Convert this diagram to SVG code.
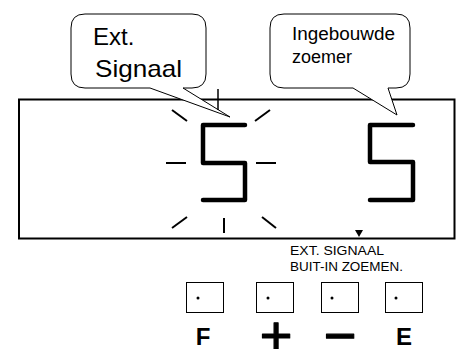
<svg xmlns="http://www.w3.org/2000/svg" width="456" height="349" viewBox="0 0 456 349">
<style>
.bub{fill:#fff;stroke:#000;stroke-width:1}
.seg{fill:none;stroke:#000;stroke-width:4.5;stroke-linecap:round;stroke-linejoin:round}
.ray{stroke:#000;stroke-width:2;fill:none}
.t{font-family:"Liberation Sans",Arial,sans-serif;fill:#000}
.key{fill:#fff;stroke:#000;stroke-width:1}
.lbl{font-family:"Liberation Sans",Arial,sans-serif;font-weight:bold;fill:#000;text-anchor:middle}
.sym{font-family:"Liberation Sans",Arial,sans-serif;fill:#000;stroke:#000;stroke-width:1.2;stroke-linejoin:round;text-anchor:middle}
</style>
<rect width="456" height="349" fill="#fff"/>
<g id="display">
<rect x="19" y="99.5" width="435.5" height="139" fill="#fff" stroke="#000" stroke-width="2"/>
</g>
<g id="digit-left">
<path class="seg" d="M245,125 H203 V163 H245 V200 H203"/>
<g class="ray">
<line x1="166" y1="163" x2="186" y2="163"/>
<line x1="256" y1="163" x2="276" y2="163"/>
<line x1="172" y1="110" x2="187" y2="121"/>
<line x1="255" y1="121" x2="270" y2="110"/>
<line x1="172" y1="228" x2="187" y2="217"/>
<line x1="224" y1="218" x2="224" y2="233"/>
<line x1="262" y1="217" x2="276" y2="228"/>
</g>
</g>
<g id="digit-right">
<path class="seg" d="M413,125 H370 V162 H413 V200 H370"/>
</g>
<g id="bubble-ext">
<path class="bub" d="M85,14 H192 Q206,14 206,28 V74 Q206,88 192,88 H183 L230,117 L150,88 H85 Q71,88 71,74 V28 Q71,14 85,14 Z"/>
<text class="t" x="93" y="45" font-size="24">Ext.</text>
<text class="t" x="95" y="77" font-size="24" textLength="87" lengthAdjust="spacingAndGlyphs">Signaal</text>
</g>
<g id="bubble-zoemer">
<path class="bub" d="M284,14 H396 Q410,14 410,28 V74 Q410,88 396,88 H388 L397,115 L353,88 H284 Q270,88 270,74 V28 Q270,14 284,14 Z"/>
<text class="t" x="292" y="40" font-size="18" textLength="103" lengthAdjust="spacingAndGlyphs">Ingebouwde</text>
<text class="t" x="292" y="63" font-size="18">zoemer</text>
</g>
<g id="connectors">
<line x1="218" y1="89" x2="218" y2="110" stroke="#000" stroke-width="1.5"/>
</g>
<g id="indicator">
<path d="M355,230 H363 L359,237 Z" fill="#000"/>
<text class="t" x="290" y="255" font-size="12" textLength="94" lengthAdjust="spacingAndGlyphs">EXT. SIGNAAL</text>
<text class="t" x="290" y="271" font-size="12" textLength="113" lengthAdjust="spacingAndGlyphs">BUIT-IN ZOEMEN.</text>
</g>
<g id="key-F">
<rect class="key" x="186.5" y="282.5" width="37" height="30"/>
<circle cx="198" cy="298" r="1.5"/>
<text class="lbl" x="203" y="345" font-size="24">F</text>
</g>
<g id="key-plus">
<rect class="key" x="256.5" y="282.5" width="37" height="30"/>
<circle cx="268" cy="298" r="1.5"/>
<text class="sym" x="276" y="355" font-size="56">+</text>
</g>
<g id="key-minus">
<rect class="key" x="321.5" y="282.5" width="37" height="30"/>
<circle cx="332" cy="298" r="1.5"/>
<text class="sym" x="340" y="355" font-size="56">−</text>
</g>
<g id="key-E">
<rect class="key" x="385.5" y="282.5" width="37" height="30"/>
<circle cx="396" cy="298" r="1.5"/>
<text class="lbl" x="404" y="345" font-size="24">E</text>
</g>
</svg>
